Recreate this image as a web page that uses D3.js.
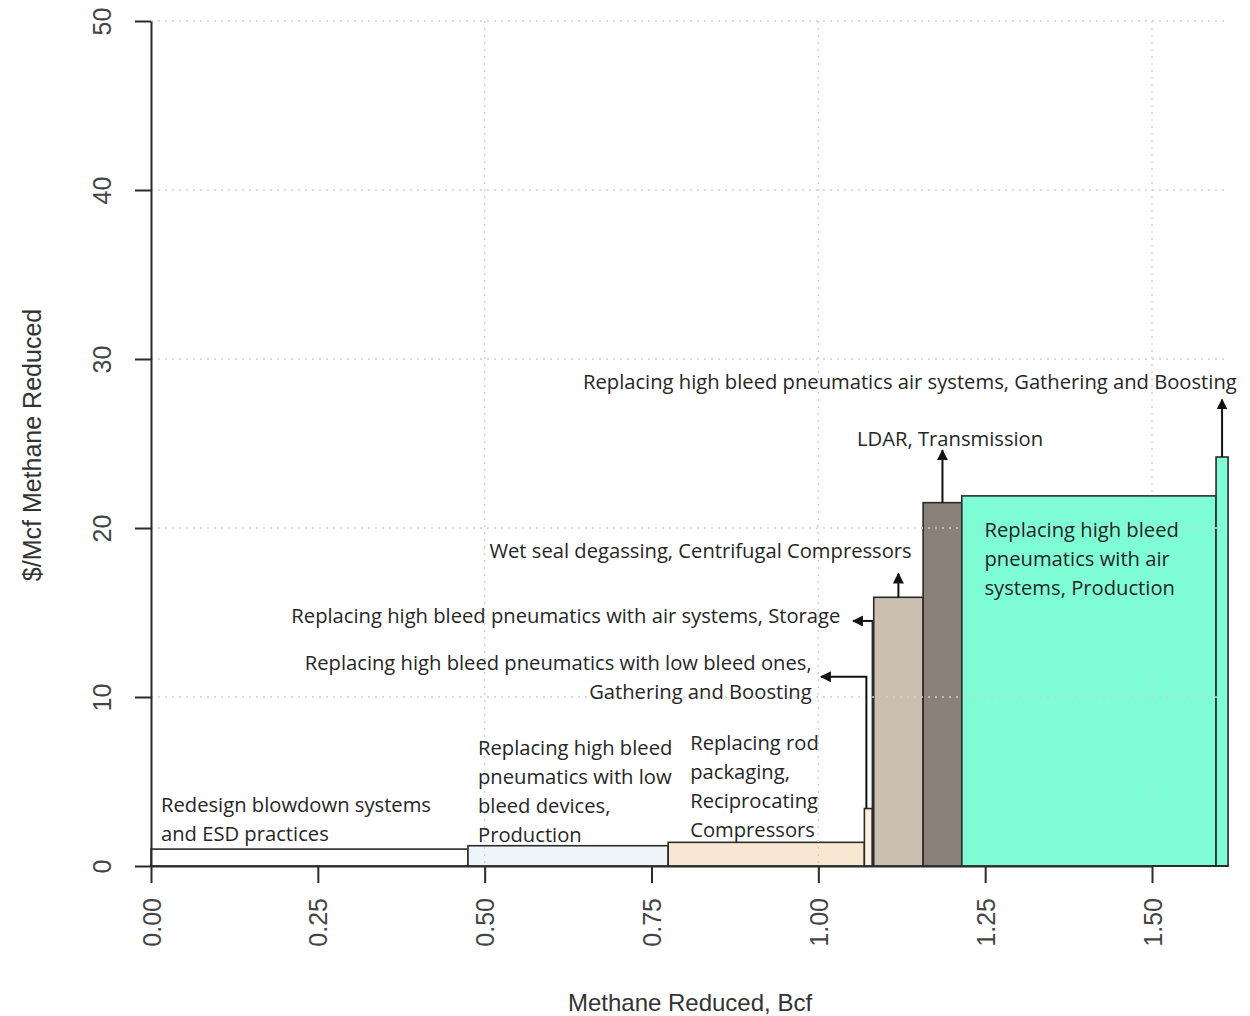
<!DOCTYPE html>
<html>
<head>
<meta charset="utf-8">
<script src="https://cdn.jsdelivr.net/npm/d3@7"></script>
<style>
  html, body { margin: 0; padding: 0; background: #fff; }
  svg { display: block; }
</style>
</head>
<body>
<svg id="chart" width="1250" height="1016"></svg>
<script>
// ---------- DATA ----------
const measures = [
  "Redesign blowdown systems and ESD practices",
  "Replacing high bleed pneumatics with low bleed devices, Production",
  "Replacing rod packaging, Reciprocating Compressors",
  "Replacing high bleed pneumatics with low bleed ones, Gathering and Boosting",
  "Replacing high bleed pneumatics with air systems, Storage",
  "Wet seal degassing, Centrifugal Compressors",
  "LDAR, Transmission",
  "Replacing high bleed pneumatics with air systems, Production",
  "Replacing high bleed pneumatics air systems, Gathering and Boosting"
];
const reductionBcf = [0.475, 0.300, 0.294, 0.012, 0.002, 0.074, 0.058, 0.381, 0.018];
const costPerMcf   = [1.0, 1.2, 1.4, 3.4, 14.5, 15.9, 21.5, 21.9, 24.2];
const xTicks = [0, 0.25, 0.5, 0.75, 1.0, 1.25, 1.5];
const xTickLabels = ["0.00", "0.25", "0.50", "0.75", "1.00", "1.25", "1.50"];
const yTicks = [0, 10, 20, 30, 40, 50];
const yTickLabels = ["0", "10", "20", "30", "40", "50"];
const xGrid = [0.5, 1.0, 1.5];
const yGrid = [10, 20, 30, 40, 50];

// ---------- STYLE ----------
const barFills = ["#ffffff", "#eff6fa", "#f8e7d1", "#fdf2e0", "#cbbfaf", "#cbbfaf", "#8b8178", "#7ffdd5", "#7ffdd5"];

// label layout (lines, anchor in data units, alignment) and arrow layout
const labelLayout = [
  { lines: ["Redesign blowdown systems", "and ESD practices"], x: 0.015, y: 3.2, anchor: "start" },
  { lines: ["Replacing high bleed", "pneumatics with low", "bleed devices,", "Production"], x: 0.49, y: 6.55, anchor: "start" },
  { lines: ["Replacing rod", "packaging,", "Reciprocating", "Compressors"], x: 0.808, y: 6.85, anchor: "start" },
  { lines: ["Replacing high bleed pneumatics with low bleed ones,", "Gathering and Boosting"], x: 0.99, y: 11.6, anchor: "end" },
  { lines: ["Replacing high bleed pneumatics with air systems, Storage"], x: 1.033, y: 14.35, anchor: "end" },
  { lines: ["Wet seal degassing, Centrifugal Compressors"], x: 1.14, y: 18.2, anchor: "end" },
  { lines: ["LDAR,  Transmission"], x: 1.058, y: 24.85, anchor: "start" },
  { lines: ["Replacing high bleed", "pneumatics with air", "systems, Production"], x: 1.249, y: 19.45, anchor: "start" },
  { lines: ["Replacing high bleed pneumatics air systems, Gathering and Boosting"], x: 1.627, y: 28.25, anchor: "end" }
];
// arrows: type 'up' (from bar top to value), 'elbow' (up then left), 'left'
const arrowLayout = [
  null, null, null,
  { type: "elbow", up: 11.2, left: 1.004 },
  { type: "left", left: 1.052 },
  { type: "up", up: 17.3 },
  { type: "up", up: 24.6 },
  null,
  { type: "up", up: 27.6 }
];

// ---------- SCALES ----------
const svg = d3.select("#chart");
const x = d3.scaleLinear().domain([0, 1.5]).range([151, 1152]);
const y = d3.scaleLinear().domain([0, 50]).range([866, 21]);

const starts = [];
reductionBcf.reduce((acc, w, i) => { starts[i] = acc; return acc + w; }, 0);
const total = d3.sum(reductionBcf);
const bars = measures.map((m, i) => ({ m, x0: starts[i], x1: starts[i] + reductionBcf[i], v: costPerMcf[i], i }));

// arrow marker
svg.append("defs").append("marker")
  .attr("id", "ah").attr("viewBox", "0 0 10 10").attr("refX", 9).attr("refY", 5)
  .attr("markerWidth", 11).attr("markerHeight", 11).attr("markerUnits", "userSpaceOnUse")
  .attr("orient", "auto")
  .append("path").attr("d", "M0,0 L10,5 L0,10 Z").attr("fill", "#111");

// ---------- BARS ----------
svg.append("g").selectAll("rect").data(bars).join("rect")
  .attr("x", d => x(d.x0))
  .attr("y", d => y(d.v))
  .attr("width", d => x(d.x1) - x(d.x0))
  .attr("height", d => y(0) - y(d.v))
  .attr("fill", d => barFills[d.i])
  .attr("stroke", "#2b2b2b")
  .attr("stroke-width", 1.6);

// ---------- GRID (drawn over bars) ----------
const grid = svg.append("g").attr("stroke", "#cfcfcf").attr("stroke-width", 1.3).attr("stroke-dasharray", "2,5");
grid.selectAll("line.h").data(yGrid).join("line").attr("class", "h")
  .attr("x1", x(0)).attr("x2", x(total) - 2).attr("y1", d => y(d)).attr("y2", d => y(d));
grid.selectAll("line.v").data(xGrid).join("line").attr("class", "v")
  .attr("x1", d => x(d)).attr("x2", d => x(d)).attr("y1", y(50)).attr("y2", y(0));

// ---------- AXES ----------
const axisColor = "#2b2b2b";
const yAxis = d3.axisLeft(y).tickValues(yTicks).tickFormat((d, i) => yTickLabels[i]).tickSize(16).tickSizeOuter(0);
const gy = svg.append("g").attr("transform", `translate(${x(0)},0)`).call(yAxis);
gy.select(".domain").attr("stroke", axisColor).attr("stroke-width", 2);
gy.selectAll(".tick line").attr("stroke", axisColor).attr("stroke-width", 2);
gy.selectAll(".tick text")
  .attr("x", null).attr("dy", null)
  .attr("transform", "translate(-40,0) rotate(-90)")
  .attr("text-anchor", "middle")
  .attr("font-family", "'Liberation Sans', Arial, sans-serif")
  .attr("font-size", 25).attr("fill", "#444");

const xAxis = d3.axisBottom(x).tickValues(xTicks).tickFormat((d, i) => xTickLabels[i]).tickSize(17).tickSizeOuter(0);
const gx = svg.append("g").attr("transform", `translate(0,${y(0)})`).call(xAxis);
gx.select(".domain").attr("stroke", axisColor).attr("stroke-width", 2);
gx.selectAll(".tick line").attr("stroke", axisColor).attr("stroke-width", 2);
gx.selectAll(".tick text")
  .attr("y", null).attr("dy", null)
  .attr("transform", "translate(9,32) rotate(-90)")
  .attr("text-anchor", "end")
  .attr("font-family", "'Liberation Sans', Arial, sans-serif")
  .attr("font-size", 25).attr("fill", "#444");
// bottom baseline under the bars beyond last tick
svg.append("line").attr("x1", x(1.5)).attr("x2", x(total)).attr("y1", y(0)).attr("y2", y(0))
  .attr("stroke", axisColor).attr("stroke-width", 2);

// axis titles
svg.append("text").attr("x", 690).attr("y", 1011).attr("text-anchor", "middle")
  .attr("font-family", "'Liberation Sans', Arial, sans-serif").attr("font-size", 24)
  .attr("fill", "#333").text("Methane Reduced, Bcf");
svg.append("text").attr("transform", "translate(41,445) rotate(-90)").attr("text-anchor", "middle")
  .attr("font-family", "'Liberation Sans', Arial, sans-serif").attr("font-size", 25)
  .attr("fill", "#333").text("$/Mcf Methane Reduced");

// ---------- ARROWS ----------
const ag = svg.append("g").attr("stroke", "#111").attr("stroke-width", 2).attr("fill", "none");
bars.forEach(b => {
  const a = arrowLayout[b.i];
  if (!a) return;
  const cx = x((b.x0 + b.x1) / 2);
  let d;
  if (a.type === "up") d = `M${cx},${y(b.v)} L${cx},${y(a.up)}`;
  else if (a.type === "elbow") d = `M${x(b.x0) + 2},${y(b.v)} L${x(b.x0) + 2},${y(a.up)} L${x(a.left)},${y(a.up)}`;
  else d = `M${x(b.x0)},${y(b.v)} L${x(a.left)},${y(b.v)}`;
  ag.append("path").attr("d", d).attr("marker-end", "url(#ah)");
});

// ---------- LABELS ----------
const lg = svg.append("g").attr("font-family", "'Open Sans', 'Noto Sans', sans-serif")
  .attr("font-size", 20.2).attr("fill", "#262626");
labelLayout.forEach(l => {
  const t = lg.append("text").attr("x", x(l.x)).attr("y", y(l.y)).attr("text-anchor", l.anchor);
  l.lines.forEach((ln, k) => {
    t.append("tspan").attr("x", x(l.x)).attr("dy", k === 0 ? 0 : 29).text(ln);
  });
});
</script>
</body>
</html>
